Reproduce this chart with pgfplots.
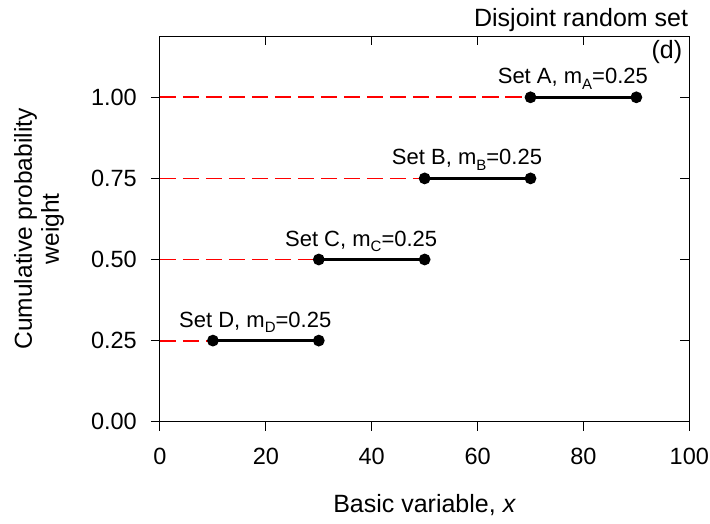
\documentclass[border=0pt]{standalone}
\usepackage{fontspec}
\setmainfont{Liberation Sans}
\usepackage{pgfplots}
\pgfplotsset{compat=1.18}
\definecolor{guidered}{RGB}{255,0,0}
\newcommand{\sub}[1]{\raisebox{-5.5pt}{\fontsize{15}{15}\selectfont #1}}
\newcommand{\labfont}{\fontsize{22}{26}\selectfont}
\newcommand{\bigfont}{\fontsize{25}{28}\selectfont}
\begin{document}
\fontsize{23.5}{27}\selectfont
\begin{tikzpicture}
\begin{axis}[
  scale only axis, width=529.3pt, height=385.7pt,
  at={(0pt,0pt)}, anchor=south west,
  xmin=0, xmax=100, ymin=0, ymax=1.189,
  xtick={0,20,40,60,80,100}, ytick={0,0.25,0.5,0.75,1},
  xtick pos=left, ytick pos=left, tick align=outside,
  major tick length=9pt,
  tick style={black, line width=1pt},
  axis line style={black, line width=1pt},
  /pgf/number format/assume math mode=true,
  yticklabel style={/pgf/number format/fixed, /pgf/number format/fixed zerofill, /pgf/number format/precision=2, inner sep=0pt, anchor=east, xshift=-14pt},
  xticklabel style={inner sep=0pt, anchor=north, yshift=-17pt},
  xlabel={Basic variable, \textit{x}},
  xlabel style={at={(axis description cs:0.5,0)}, anchor=base, yshift=-91pt, inner sep=0pt, font=\bigfont},
  ylabel={Cumulative probability\\weight},
  ylabel style={at={(axis description cs:-0.2286,0.5)}, anchor=center, align=center, inner sep=0pt, font=\fontsize{24.5}{27}\selectfont},
  clip=false,
]
% red dashed guide lines
\addplot[draw=guidered, line width=1.8pt, dash pattern=on 16.5pt off 6.5pt] coordinates {(0,0.25) (30,0.25)};
\addplot[draw=guidered, line width=1.8pt, dash pattern=on 16.5pt off 6.5pt] coordinates {(0,0.5) (50,0.5)};
\addplot[draw=guidered, line width=1.8pt, dash pattern=on 16.5pt off 6.5pt] coordinates {(0,0.75) (70,0.75)};
\addplot[draw=guidered, line width=1.8pt, dash pattern=on 16.5pt off 6.5pt] coordinates {(0,1.0) (90,1.0)};
% focal elements
\addplot[black, line width=3pt, mark=*, mark size=4.3pt, mark options={solid}] coordinates {(10,0.25) (30,0.25)};
\addplot[black, line width=3pt, mark=*, mark size=4.3pt, mark options={solid}] coordinates {(30,0.5) (50,0.5)};
\addplot[black, line width=3pt, mark=*, mark size=4.3pt, mark options={solid}] coordinates {(50,0.75) (70,0.75)};
\addplot[black, line width=3pt, mark=*, mark size=4.3pt, mark options={solid}] coordinates {(70,1.0) (90,1.0)};
% labels
\node[anchor=base, inner sep=0pt, yshift=13.5pt, font=\labfont] at (axis cs:78,1.0) {Set A, m\sub{A}=0.25};
\node[anchor=base, inner sep=0pt, yshift=13.5pt, font=\labfont] at (axis cs:58,0.75) {Set B, m\sub{B}=0.25};
\node[anchor=base, inner sep=0pt, yshift=13.5pt, font=\labfont] at (axis cs:38,0.5) {Set C, m\sub{C}=0.25};
\node[anchor=base, inner sep=0pt, yshift=13.5pt, font=\labfont] at (axis cs:18,0.25) {Set D, m\sub{D}=0.25};
\node[anchor=base east, inner sep=0pt, font=\bigfont] at (rel axis cs:1,1) [xshift=-1pt, yshift=10pt] {Disjoint random set};
\node[anchor=east, inner sep=0pt, font=\bigfont] at (rel axis cs:1,1) [xshift=-7pt, yshift=-16pt] {(d)};
\end{axis}
\begin{axis}[
  scale only axis, width=529.3pt, height=385.7pt,
  at={(0pt,0pt)}, anchor=south west,
  xmin=0, xmax=100, ymin=0, ymax=1.189,
  xtick={20,40,60,80}, ytick={0.25,0.5,0.75,1},
  xtick pos=right, ytick pos=right, tick align=inside,
  major tick length=9pt,
  tick style={black, line width=1pt},
  axis line style={draw=none},
  xticklabels={}, yticklabels={},
]
\end{axis}
\pgfresetboundingbox
\path[use as bounding box] (-160pt,-101.3pt) rectangle (550pt,421.7pt);
\end{tikzpicture}
\end{document}
